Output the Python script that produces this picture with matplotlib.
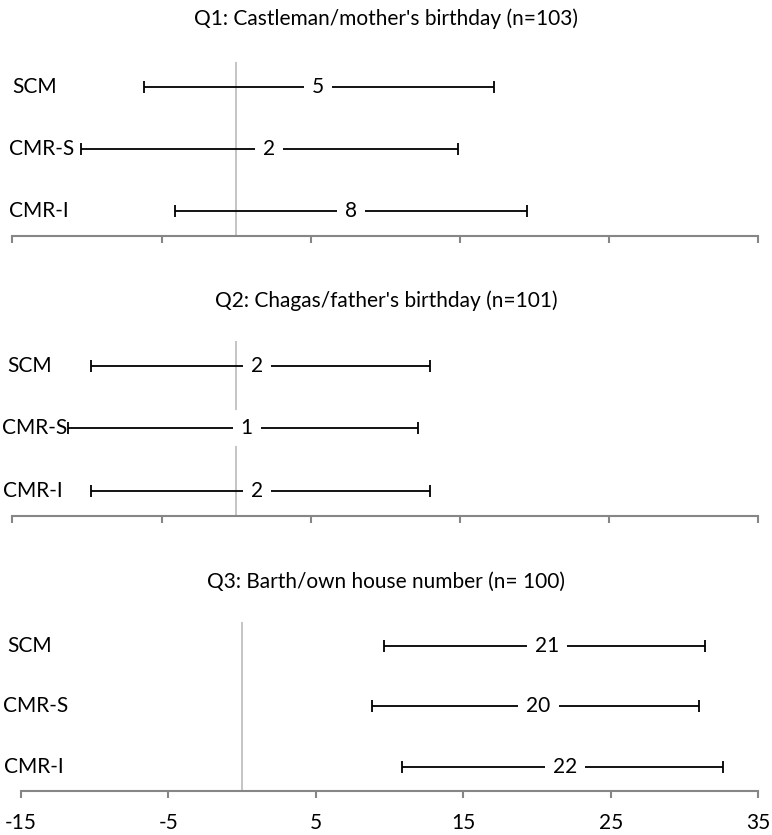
import matplotlib
matplotlib.use("Agg")
import matplotlib.pyplot as plt
import numpy as np

plt.rcParams['font.family'] = ['Lato', 'DejaVu Sans']

# ---- data ----
methods = ["SCM", "CMR-S", "CMR-I"]
titles = ["Q1: Castleman/mother's birthday (n=103)",
          "Q2: Chagas/father's birthday (n=101)",
          "Q3: Barth/own house number (n= 100)"]

q1_low = [-6.2, -10.4, -4.1]
q1_high = [17.3, 14.9, 19.5]
q1_point = [5.5, 2.2, 7.7]
q1_labels = ["5", "2", "8"]

q2_low = [-9.7, -11.3, -9.7]
q2_high = [13.0, 12.2, 13.0]
q2_point = [1.4, 0.7, 1.4]
q2_labels = ["2", "1", "2"]

q3_low = [9.6, 8.8, 10.85]
q3_high = [31.4, 31.0, 32.6]
q3_point = [20.7, 20.1, 21.9]
q3_labels = ["21", "20", "22"]

x_ticks = [-15, -5, 5, 15, 25, 35]
x_tick_labels = ["-15", "-5", "5", "15", "25", "35"]

panels = [
    (q1_low, q1_high, q1_point, q1_labels),
    (q2_low, q2_high, q2_point, q2_labels),
    (q3_low, q3_high, q3_point, q3_labels),
]

# ---- layout (pixels) ----
W, H = 772, 835
fig = plt.figure(figsize=(W / 100, H / 100), dpi=100)

ax_left = [12.3, 12.3, 20.7]
ax_right = 758.3
ax_top = [62.3, 341.0, 621.7]
ax_bot = [235.7, 515.7, 790.7]
title_base = [25.0, 306.7, 588.3]
label_x = [[12.3, 9.3, 9.3], [7.3, 2.3, 3.3], [7.3, 3.3, 4.0]]

axis_gray = "#868686"
zero_gray = "#bfbfbf"
FS = 15

for i, (lo, hi, pt, labs) in enumerate(panels):
    rect = [ax_left[i] / W, 1 - ax_bot[i] / H,
            (ax_right - ax_left[i]) / W, (ax_bot[i] - ax_top[i]) / H]
    ax = fig.add_axes(rect)
    ax.set_xlim(-15, 35)
    ax.set_ylim(-0.4, 2.4)
    ypos = np.array([2, 1, 0])
    lo_a, hi_a, pt_a = np.array(lo), np.array(hi), np.array(pt)
    ax.axvline(0, color=zero_gray, lw=1.3, zorder=1)
    ax.errorbar(pt_a, ypos, xerr=[pt_a - lo_a, hi_a - pt_a], fmt='none',
                ecolor='black', elinewidth=1.3, capsize=4, capthick=1.3, zorder=2)
    for x, y, s in zip(pt_a, ypos, labs):
        ax.text(x, y, s, ha='center', va='center', fontsize=FS, zorder=3,
                bbox=dict(boxstyle='square,pad=0.38', fc='white', ec='none'))
    for s in ['top', 'right', 'left']:
        ax.spines[s].set_visible(False)
    ax.spines['bottom'].set_color(axis_gray)
    ax.spines['bottom'].set_linewidth(1.5)
    ax.set_yticks([])
    ax.set_xticks(x_ticks)
    ax.tick_params(axis='x', direction='out', length=4.8, width=1.5,
                   color=axis_gray, labelsize=FS, pad=11)
    if i == 2:
        ax.set_xticklabels(x_tick_labels)
    else:
        ax.set_xticklabels([])
    # title
    fig.text(386 / W, 1 - title_base[i] / H, titles[i], ha='center',
             va='baseline', fontsize=FS)
    # row labels
    for j, m in enumerate(methods):
        yrow = ax.transData.transform((0, ypos[j]))[1]
        yfrac = yrow / (H)
        fig.text(label_x[i][j] / W, yfrac, m, ha='left', va='center', fontsize=FS)

fig.savefig("out.png", dpi=100)
